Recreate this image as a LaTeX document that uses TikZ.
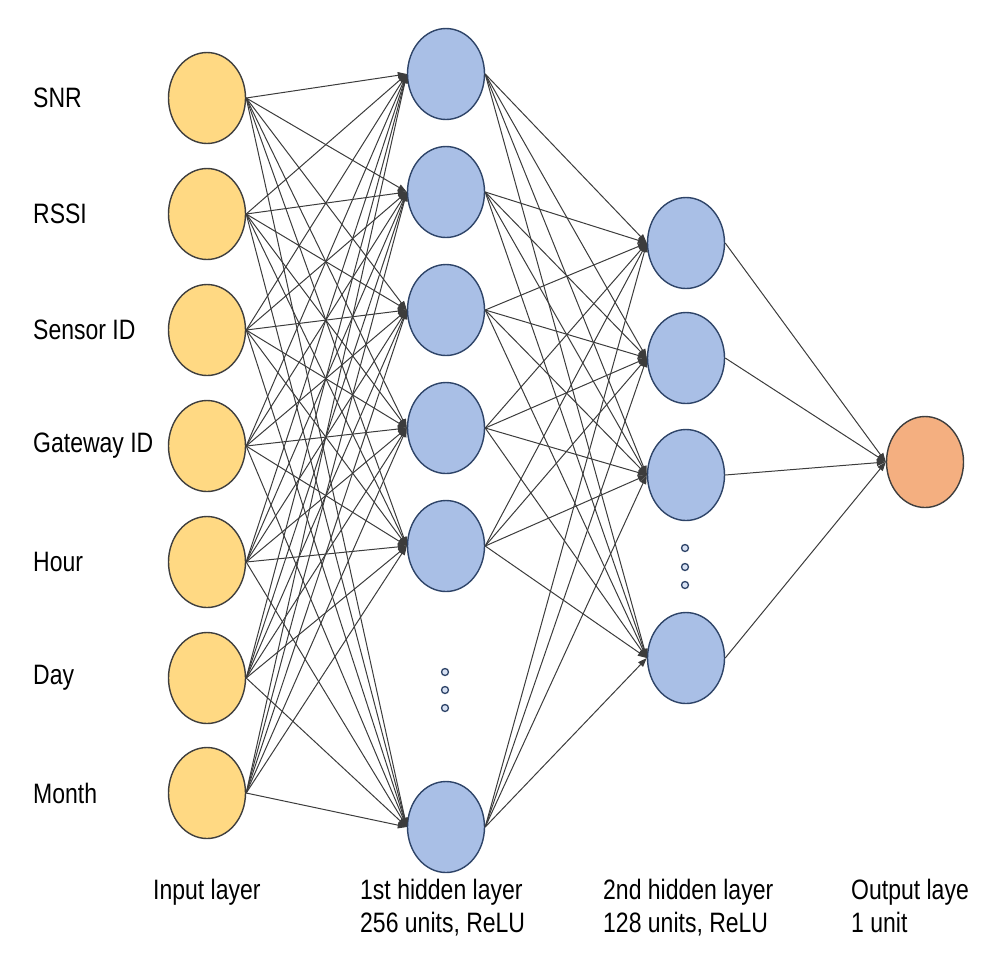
\documentclass[tikz,border=0pt]{standalone}
\usepackage{fontspec}
\setmainfont{Liberation Sans}
\usetikzlibrary{arrows.meta,positioning,shapes.geometric}
\usepackage{xcolor}
\definecolor{inyellow}{HTML}{FFD983}
\definecolor{hidblue}{HTML}{A9BFE6}
\definecolor{outorange}{HTML}{F4AF80}
\definecolor{rimgray}{HTML}{3E3E3E}
\definecolor{rimblue}{HTML}{2E4468}
\definecolor{wiregray}{HTML}{3C3C3C}
\newcommand\feattext[1]{\scalebox{1}[1.22]{\fontsize{23}{28}\selectfont#1}}
\newcommand\layertext[1]{\scalebox{1}[1.22]{\fontsize{23}{27}\selectfont\begin{tabular}{@{}l@{}}#1\end{tabular}}}
\tikzset{
    neuron/.style={ellipse, draw, line width=1.4pt, minimum width=77pt, minimum height=91pt, inner sep=0pt},
    innode/.style={neuron, fill=inyellow, draw=rimgray},
    hidnode/.style={neuron, fill=hidblue, draw=rimblue},
    outnode/.style={neuron, fill=outorange, draw=rimgray},
    wire/.style={draw=wiregray, line width=1pt, -{Triangle[length=9pt,width=6.5pt]}},
    moredot/.style={circle, draw=rimblue, fill=hidblue!45, line width=1.3pt, minimum size=7pt, inner sep=0pt},
    featlabel/.style={anchor=west, inner sep=0pt},
    layerlabel/.style={anchor=north west, inner sep=0pt}
}

\begin{document}
\begin{tikzpicture}[x=1pt, y=-1pt]
            \useasboundingbox (0,0) rectangle (981,954);

            % Входной слой
            \node[innode] (snr)     at (207,98)  {};
            \node[innode] (rssi)    at (207,214) {};
            \node[innode] (sensor)  at (207,330) {};
            \node[innode] (gateway) at (207,446) {};
            \node[innode] (hour)    at (207,562) {};
            \node[innode] (day)     at (207,678) {};
            \node[innode] (month)   at (207,793) {};

            % Подписи входов
            \node[featlabel] (lsnr)     at (33,98)  {\feattext{SNR}};
            \node[featlabel] (lrssi)    at (33,214) {\feattext{RSSI}};
            \node[featlabel] (lsensor)  at (33,330) {\feattext{Sensor ID}};
            \node[featlabel] (lgateway) at (33,446) {\feattext{Gateway ID}};
            \node[featlabel] (lhour)    at (33,562) {\feattext{Hour}};
            \node[featlabel] (lday)     at (33,678) {\feattext{Day}};
            \node[featlabel] (lmonth)   at (33,793) {\feattext{Month}};

            % Первый скрытый слой
            \node[hidnode] (h1a) at (446,74)  {};
            \node[hidnode] (h1b) at (446,192) {};
            \node[hidnode] (h1c) at (446,310) {};
            \node[hidnode] (h1d) at (446,428) {};
            \node[hidnode] (h1e) at (446,546) {};
            \node[hidnode] (h1z) at (446,827) {};
            \node[moredot] (h1dot1) at (445,672) {};
            \node[moredot] (h1dot2) at (445,690) {};
            \node[moredot] (h1dot3) at (445,708) {};

            % Второй скрытый слой
            \node[hidnode] (h2a) at (686,243) {};
            \node[hidnode] (h2b) at (686,358) {};
            \node[hidnode] (h2c) at (686,475) {};
            \node[hidnode] (h2z) at (686,658) {};
            \node[moredot] (h2dot1) at (685,548) {};
            \node[moredot] (h2dot2) at (685,567) {};
            \node[moredot] (h2dot3) at (685,585) {};

            % Выходной слой
            \node[outnode] (out) at (925,462) {};

            % Связи: вход -> первый скрытый
            \path (snr.east)     edge[wire] (h1a.west) edge[wire] (h1b.west) edge[wire] (h1c.west) edge[wire] (h1d.west) edge[wire] (h1e.west) edge[wire] (h1z.west);
            \path (rssi.east)    edge[wire] (h1a.west) edge[wire] (h1b.west) edge[wire] (h1c.west) edge[wire] (h1d.west) edge[wire] (h1e.west) edge[wire] (h1z.west);
            \path (sensor.east)  edge[wire] (h1a.west) edge[wire] (h1b.west) edge[wire] (h1c.west) edge[wire] (h1d.west) edge[wire] (h1e.west) edge[wire] (h1z.west);
            \path (gateway.east) edge[wire] (h1a.west) edge[wire] (h1b.west) edge[wire] (h1c.west) edge[wire] (h1d.west) edge[wire] (h1e.west) edge[wire] (h1z.west);
            \path (hour.east)    edge[wire] (h1a.west) edge[wire] (h1b.west) edge[wire] (h1c.west) edge[wire] (h1d.west) edge[wire] (h1e.west) edge[wire] (h1z.west);
            \path (day.east)     edge[wire] (h1a.west) edge[wire] (h1b.west) edge[wire] (h1c.west) edge[wire] (h1d.west) edge[wire] (h1e.west) edge[wire] (h1z.west);
            \path (month.east)   edge[wire] (h1a.west) edge[wire] (h1b.west) edge[wire] (h1c.west) edge[wire] (h1d.west) edge[wire] (h1e.west) edge[wire] (h1z.west);

            % Связи: первый скрытый -> второй скрытый
            \path (h1a.east) edge[wire] (h2a.west) edge[wire] (h2b.west) edge[wire] (h2c.west) edge[wire] (h2z.west);
            \path (h1b.east) edge[wire] (h2a.west) edge[wire] (h2b.west) edge[wire] (h2c.west) edge[wire] (h2z.west);
            \path (h1c.east) edge[wire] (h2a.west) edge[wire] (h2b.west) edge[wire] (h2c.west) edge[wire] (h2z.west);
            \path (h1d.east) edge[wire] (h2a.west) edge[wire] (h2b.west) edge[wire] (h2c.west) edge[wire] (h2z.west);
            \path (h1e.east) edge[wire] (h2a.west) edge[wire] (h2b.west) edge[wire] (h2c.west) edge[wire] (h2z.west);
            \path (h1z.east) edge[wire] (h2a.west) edge[wire] (h2b.west) edge[wire] (h2c.west) edge[wire] (h2z.west);

            % Связи: второй скрытый -> выход
            \path (h2a.east) edge[wire] (out.west);
            \path (h2b.east) edge[wire] (out.west);
            \path (h2c.east) edge[wire] (out.west);
            \path (h2z.east) edge[wire] (out.west);

            % Подписи слоёв
            \node[layerlabel] (linput)  at (153,876) {\layertext{Input layer}};
            \node[layerlabel] (lfirst)  at (360,876) {\layertext{1st hidden layer\\256 units, ReLU}};
            \node[layerlabel] (lsecond) at (603,876) {\layertext{2nd hidden layer\\128 units, ReLU}};
            \node[layerlabel] (loutput) at (851,876) {\layertext{Output laye\\1 unit}};
        \end{tikzpicture}
\end{document}
